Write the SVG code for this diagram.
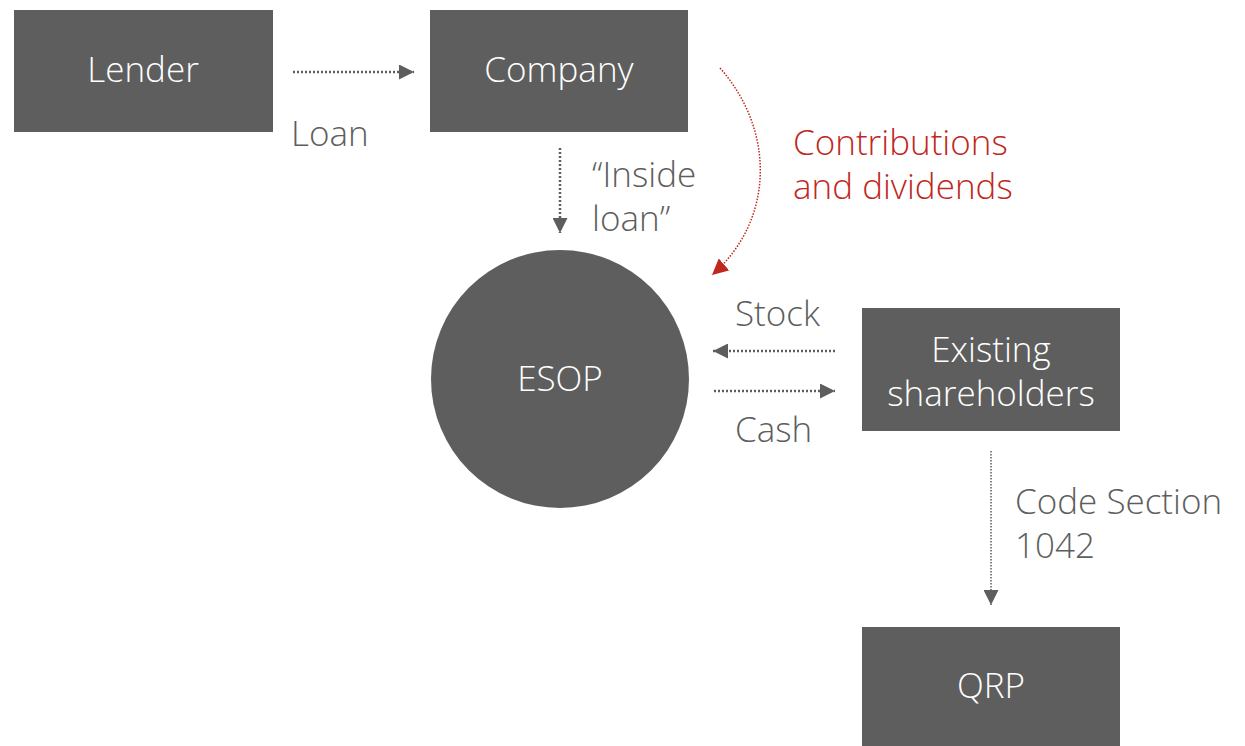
<svg xmlns="http://www.w3.org/2000/svg" width="1245" height="746" viewBox="0 0 1245 746">
  <style>
    .box { fill: #5d5e5d; }
    .ntext { fill: #ffffff; font-family: "Open Sans", "Noto Sans", sans-serif; font-size: 35px; font-weight: 300; text-anchor: middle; }
    .lbl { fill: #5d5e5d; font-family: "Open Sans", "Noto Sans", sans-serif; font-size: 35px; font-weight: 300; }
    .red { fill: #c0281e; }
    .thick { fill: none; stroke: #5d5e5d; stroke-width: 2.5; stroke-dasharray: 2 2; }
    .thin { fill: none; stroke: #5d5e5d; stroke-width: 1.5; stroke-dasharray: 1.5 1.5; }
    .thinred { fill: none; stroke: #c0281e; stroke-width: 1.5; stroke-dasharray: 1.5 1.5; }
  </style>
  <defs>
    <marker id="ah" viewBox="0 0 10 10" refX="10" refY="5" markerWidth="15" markerHeight="15" markerUnits="userSpaceOnUse" orient="auto">
      <path d="M0,0 L10,5 L0,10 Z" fill="#5d5e5d"/>
    </marker>
    <marker id="ahred" viewBox="0 0 10 10" refX="10" refY="5" markerWidth="16" markerHeight="16" markerUnits="userSpaceOnUse" orient="auto">
      <path d="M0,0 L10,5 L0,10 Z" fill="#c0281e"/>
    </marker>
  </defs>

  <g id="lender">
    <rect class="box" x="14" y="10" width="259" height="122"/>
    <text class="ntext" x="143" y="82">Lender</text>
  </g>
  <g id="company">
    <rect class="box" x="430" y="10" width="258" height="122"/>
    <text class="ntext" x="559" y="82">Company</text>
  </g>
  <g id="esop">
    <circle class="box" cx="560" cy="379" r="129"/>
    <text class="ntext" x="560" y="391">ESOP</text>
  </g>
  <g id="shareholders">
    <rect class="box" x="862" y="308" width="258" height="123"/>
    <text class="ntext" x="991" y="362">Existing</text>
    <text class="ntext" x="991" y="406">shareholders</text>
  </g>
  <g id="qrp">
    <rect class="box" x="862" y="627" width="258" height="119"/>
    <text class="ntext" x="991" y="698">QRP</text>
  </g>

  <g id="connectors">
    <line class="thick" x1="293" y1="72" x2="414" y2="72" marker-end="url(#ah)"/>
    <line class="thick" x1="560" y1="148" x2="560" y2="233" marker-end="url(#ah)"/>
    <path class="thinred" d="M720,68 C775,130 775,220 712,275" marker-end="url(#ahred)"/>
    <line class="thick" x1="835" y1="351" x2="713" y2="351" marker-end="url(#ah)"/>
    <line class="thick" x1="714" y1="391" x2="835" y2="391" marker-end="url(#ah)"/>
    <line class="thin" x1="991" y1="451" x2="991" y2="605" marker-end="url(#ah)"/>
  </g>

  <g id="labels">
    <text class="lbl" x="291" y="146">Loan</text>
    <text class="lbl" x="592" y="187">“Inside</text>
    <text class="lbl" x="592" y="231">loan”</text>
    <text class="lbl red" x="793" y="155">Contributions</text>
    <text class="lbl red" x="793" y="199">and dividends</text>
    <text class="lbl" x="735" y="326">Stock</text>
    <text class="lbl" x="735" y="442">Cash</text>
    <text class="lbl" x="1015" y="514">Code Section</text>
    <text class="lbl" x="1015" y="558">1042</text>
  </g>
</svg>
